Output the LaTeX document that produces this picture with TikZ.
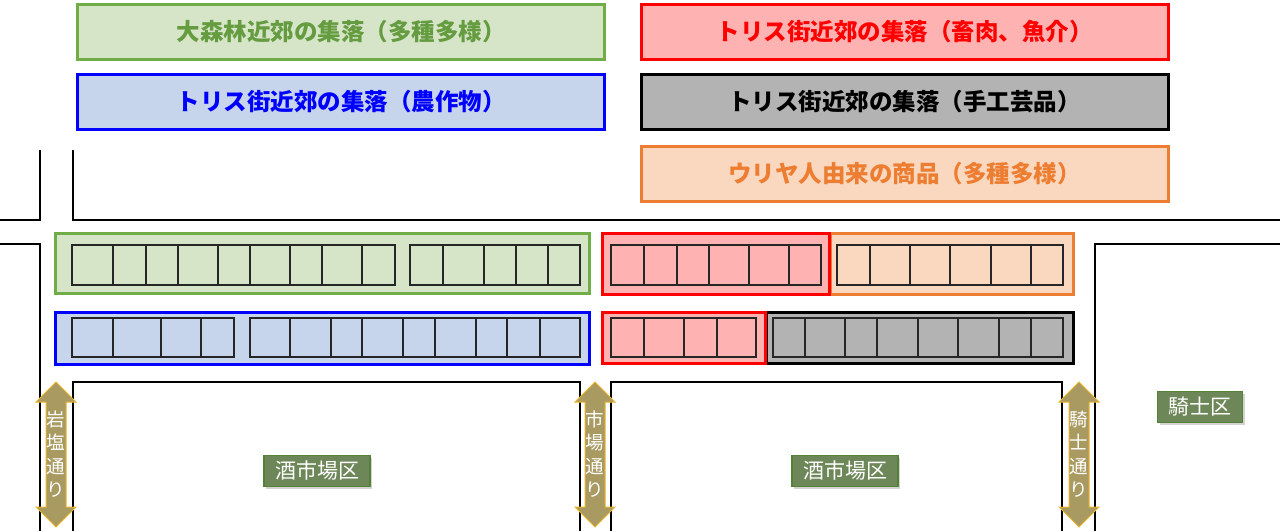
\documentclass[tikz,border=0pt]{standalone}
\usepackage{fontspec}
\setmainfont{Noto Sans CJK JP}
\usetikzlibrary{shadows,positioning}

\definecolor{grnline}{HTML}{70AD47}
\definecolor{grnfill}{HTML}{D6E4C8}
\definecolor{blufill}{HTML}{C6D4EC}
\definecolor{redfill}{HTML}{FFB2B2}
\definecolor{grayfill}{HTML}{B3B3B3}
\definecolor{orgline}{HTML}{ED7D31}
\definecolor{orgfill}{HTML}{FAD8C0}
\definecolor{streetfill}{HTML}{A99A62}
\definecolor{streetline}{HTML}{E8B52A}
\definecolor{distfill}{HTML}{6D8759}
\definecolor{distline}{HTML}{548235}

\begin{document}
\begin{tikzpicture}[x=1pt,y=-1pt,
	road/.style={line width=2pt, black},
	group/.style={line width=3pt},
	stall/.style={line width=1.8pt, draw=black!85},
	kind/.style={draw=#1, text=#1, line width=3pt, minimum width=527pt, minimum height=55pt, font=\fontsize{23.5}{26}\selectfont\bfseries},
	street/.style={fill=streetfill, draw=streetline, line width=1pt},
	streetname/.style={text=white, font=\fontsize{18.5}{23.5}\selectfont, align=center, inner sep=0pt},
	district/.style={fill=distfill, draw=distline, line width=1.5pt, text=white, font=\fontsize{21}{24}\selectfont, minimum height=31pt, inner xsep=11pt, drop shadow={opacity=0.35, shadow xshift=2pt, shadow yshift=-2pt}}]
		\useasboundingbox (0,0) rectangle (1280,531);
		
		% goods legend
		\node[kind=grnline, fill=grnfill, text=grnline!90!black] (forest) at (341,31.5) {大森林近郊の集落（多種多様）};
		\node[kind=blue, fill=blufill] (farm) at (341,102) {トリス街近郊の集落（農作物）};
		\node[kind=red, fill=redfill] (meat) at (904.5,31.5) {トリス街近郊の集落（畜肉、魚介）};
		\node[kind=black, fill=grayfill] (craft) at (904.5,102) {トリス街近郊の集落（手工芸品）};
		\node[kind=orgline, fill=orgfill] (uriya) at (904.5,173.5) {ウリヤ人由来の商品（多種多様）};
		
		% roads
		\draw[road] (40,150) -- (40,220) -- (0,220);
		\draw[road] (73,150) -- (73,220) -- (1280,220);
		\draw[road] (0,244) -- (40,244) -- (40,531);
		\draw[road] (73,531) -- (73,382) -- (580,382) -- (580,531);
		\draw[road] (611,531) -- (611,382) -- (1062,382) -- (1062,531);
		\draw[road] (1095,531) -- (1095,244) -- (1280,244);
		
		% stall rows
		\draw[group, draw=grnline, fill=grnfill] (55.5,233.5) rectangle (589.5,293.5);
		\draw[group, draw=blue, fill=blufill] (55.5,312.5) rectangle (589.5,364.5);
		\draw[group, draw=orgline, fill=orgfill] (830,233.5) rectangle (1073.5,294.5);
		\draw[group, draw=red, fill=redfill] (602.5,233.5) rectangle (829,294.5);
		\draw[group, draw=black, fill=grayfill] (766,312.5) rectangle (1073.5,363.5);
		\draw[group, draw=red, fill=redfill] (602.5,312.5) rectangle (765,363.5);
		
		\foreach \a/\b/\ya/\yb/\d in {
			72/395/245/285/{113,146,178,218,250,290,322,362},
			410/580/245/285/{443,484,516,548},
			611/821/245/285/{644,677,709,749,789},
			837/1063/245/285/{870,910,950,991,1031},
			72/234/318/357/{113,161,201},
			250/580/318/357/{290,331,362,403,435,476,507,540},
			611/756/318/357/{644,684,717},
			773/1063/318/357/{805,845,877,918,958,999,1031}}{
			\draw[stall] (\a,\ya) rectangle (\b,\yb);
			\foreach \x in \d {
				\draw[stall] (\x,\ya) -- (\x,\yb);
			}
		}
		
		% streets
		\foreach \cx in {56,595,1079}{
			\draw[street] (\cx,382) -- (\cx+20,402) -- (\cx+10,402) -- (\cx+10,507) -- (\cx+20,507) -- (\cx,527) -- (\cx-20,507) -- (\cx-10,507) -- (\cx-10,402) -- (\cx-20,402) -- cycle;
		}
		\node[streetname] (iwashio) at (56,454) {岩\\塩\\通\\り};
		\node[streetname] (ichiba) at (595,454) {市\\場\\通\\り};
		\node[streetname] (kishi) at (1079,454) {騎\\士\\通\\り};
		
		% districts
		\node[district] (sake1) at (317,471) {酒市場区};
		\node[district] (sake2) at (845,471) {酒市場区};
		\node[district] (knight) at (1200,407) {騎士区};
	\end{tikzpicture}
\end{document}
